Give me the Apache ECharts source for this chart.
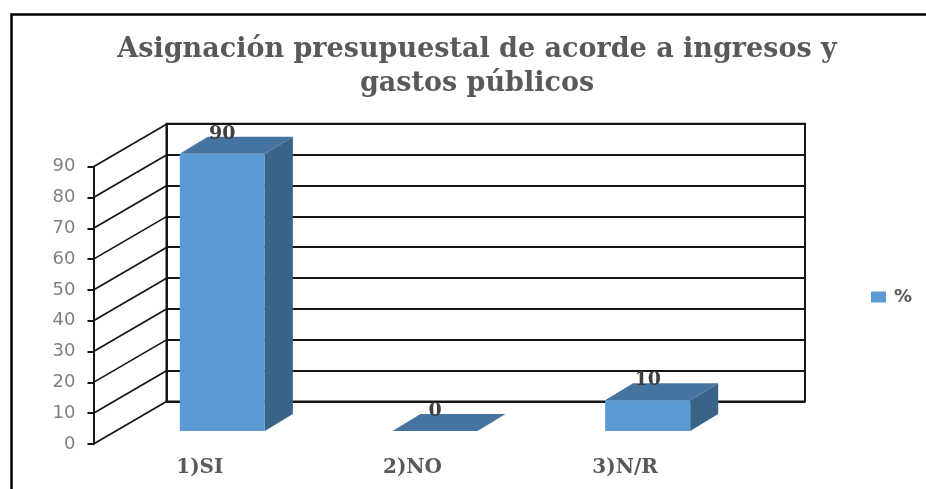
<!DOCTYPE html>
<html><head><meta charset="utf-8">
<style>html,body{margin:0;padding:0;background:#fff}#c{width:926px;height:489px}</style>
<script src="https://cdn.jsdelivr.net/npm/echarts@6/dist/echarts.min.js"></script>
</head><body><div id="c"></div>
<script>
const titleText = 'Asignación presupuestal de acorde a ingresos y\ngastos públicos';
const categories = ['1)SI', '2)NO', '3)N/R'];
const seriesName = '%';
const values = [90, 0, 10];
const wallTicks = [0, 10, 20, 30, 40, 50, 60, 70, 80, 90];

const WALL = [73, -42.5];   // depth of the side wall
const FRONT = [22.5, -13];  // bars stand this far in from the front plane
const DEPTH = [28, -17];    // depth of a bar
const LINE = '#151515';
const SERIF = '"DejaVu Serif"';

const chart = echarts.init(document.getElementById('c'), null, {renderer: 'canvas'});
chart.setOption({
  animation: false,
  backgroundColor: '#fff',
  title: {
    text: titleText, left: 472, textAlign: 'center', top: 28,
    textStyle: {fontFamily: SERIF, fontWeight: 'bold', fontSize: 27, lineHeight: 34, color: '#595959'}
  },
  legend: {
    left: 866, top: 283, itemWidth: 15, itemHeight: 11, itemGap: 0,
    data: [{name: seriesName, icon: 'rect'}],
    textStyle: {fontFamily: '"DejaVu Sans"', fontSize: 18, fontWeight: 'bold', color: '#595959', padding: [0, 0, 2, 3]}
  },
  grid: [
    {left: 93.5, top: 166.7, width: 638, height: 277.3},
    {left: 166.5, top: 123.7, width: 638.5, height: 277.8, show: true, borderColor: LINE, borderWidth: 2, backgroundColor: 'transparent'}
  ],
  xAxis: [
    {type: 'category', gridIndex: 0, data: categories,
     axisLine: {show: false}, axisTick: {show: false}, splitLine: {show: false},
     axisLabel: {margin: 14, fontFamily: SERIF, fontWeight: 'bold', fontSize: 20, color: '#595959'}},
    {type: 'category', gridIndex: 1, data: categories, show: false}
  ],
  yAxis: [
    {type: 'value', gridIndex: 0, min: 0, max: 90, interval: 10,
     axisLine: {show: true, lineStyle: {color: LINE, width: 2}},
     axisTick: {show: true, length: 6, lineStyle: {color: LINE, width: 2}},
     splitLine: {show: false},
     axisLabel: {margin: 18, padding: [3, 0, 0, 0], fontFamily: '"DejaVu Sans"', fontSize: 18, color: '#7f7f7f'}},
    {type: 'value', gridIndex: 1, min: 0, max: 90, interval: 10,
     axisLine: {show: true, lineStyle: {color: LINE, width: 2}},
     axisTick: {show: false}, axisLabel: {show: false},
     splitLine: {show: true, lineStyle: {color: LINE, width: 2}}}
  ],
  series: [
    {
      type: 'custom', name: 'wall', xAxisIndex: 0, yAxisIndex: 0, z: 1, silent: true, clip: false,
      data: wallTicks.map(v => [0, v]),
      renderItem(params, api) {
        const y = api.coord([0, api.value(1)])[1];
        const x = params.coordSys.x;
        return {type: 'line', shape: {x1: x, y1: y, x2: x + WALL[0], y2: y + WALL[1]},
                style: {stroke: LINE, lineWidth: 1.7}};
      }
    },
    {
      type: 'custom', name: seriesName, xAxisIndex: 0, yAxisIndex: 0, z: 5, clip: false,
      itemStyle: {color: '#5B9BD5'},
      data: values.map((v, i) => [i, v]),
      renderItem(params, api) {
        const top = api.coord([api.value(0), api.value(1)]);
        const base = api.coord([api.value(0), 0]);
        const w = api.size([1, 0])[0] * 0.4;
        const l = top[0] + FRONT[0] - w / 2, r = l + w;
        const t = top[1] + FRONT[1], b = base[1] + FRONT[1];
        const dx = DEPTH[0], dy = DEPTH[1];
        return {type: 'group', children: [
          {type: 'polygon', shape: {points: [[r, t], [r + dx, t + dy], [r + dx, b + dy], [r, b]]}, style: {fill: '#3A6487'}},
          {type: 'polygon', shape: {points: [[l, t], [l + dx, t + dy], [r + dx, t + dy], [r, t]]}, style: {fill: '#44749F'}},
          {type: 'rect', shape: {x: l, y: t, width: w, height: b - t}, style: {fill: '#5B9BD5'}},
          {type: 'text', x: l + w / 2, y: t - 20, style: {
            text: String(api.value(1)), align: 'center', verticalAlign: 'middle',
            font: 'bold 19px ' + SERIF, fill: '#404040'}}
        ]};
      }
    }
  ],
  graphic: [
    {type: 'polyline', silent: true, z: 10,
     shape: {points: [[11.5, 489], [11.5, 14.5], [926, 14.5]]},
     style: {stroke: '#000', lineWidth: 2.5, fill: null}}
  ]
});
</script></body></html>
